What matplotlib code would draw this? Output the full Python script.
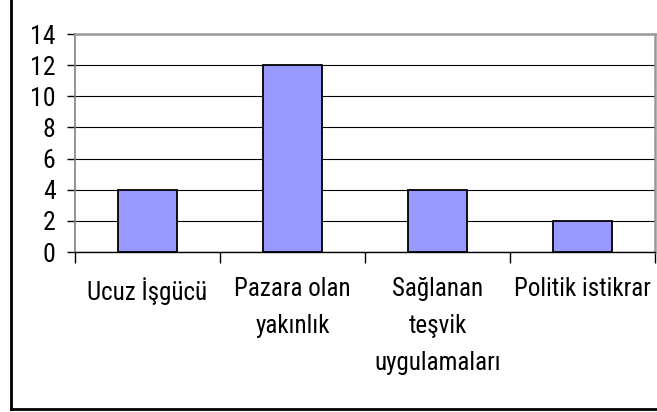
import matplotlib
matplotlib.use('Agg')
import matplotlib.pyplot as plt
from matplotlib.lines import Line2D

# data
categories = ["Ucuz İşgücü", "Pazara olan\nyakınlık", "Sağlanan\nteşvik\nuygulamaları", "Politik istikrar"]
values = [4, 12, 4, 2]
yticks = [0, 2, 4, 6, 8, 10, 12, 14]

plt.rcParams['font.family'] = ['Roboto Condensed', 'Liberation Sans', 'DejaVu Sans']

fig = plt.figure(figsize=(6.57, 4.12), dpi=100)
ax = fig.add_axes([75/657, 1 - 252/412, 580/657, 218/412])

x = list(range(len(categories)))
ax.bar(x, values, width=0.41, color='#9999FF', edgecolor='black', linewidth=1.3, zorder=3)

ax.set_xlim(-0.5, len(categories) - 0.5)
ax.set_ylim(0, 14)
ax.set_yticks(yticks)
ax.set_yticklabels([str(t) for t in yticks], fontsize=18.5)
ax.yaxis.grid(True, color='black', linewidth=0.8, zorder=0)
ax.set_axisbelow(True)

# category labels between boundary ticks
ax.set_xticks([i - 0.5 for i in range(len(categories) + 1)])
ax.set_xticklabels([])
ax.set_xticks(x, minor=True)
ax.set_xticklabels(categories, minor=True, fontsize=18, va='top')
for lbl in ax.get_xticklabels(minor=True):
    lbl.set_linespacing(1.68)
ax.tick_params(axis='x', which='minor', length=0, pad=18)
ax.tick_params(axis='x', which='major', length=8, width=1, direction='out', color='black')
ax.tick_params(axis='y', length=6, width=1, direction='out', color='black', pad=8)

ax.spines['top'].set_color('#999999')
ax.spines['top'].set_linewidth(1.8)
ax.spines['right'].set_color('#999999')
ax.spines['right'].set_linewidth(1.8)
ax.spines['left'].set_color('#808080')
ax.spines['left'].set_linewidth(1.2)
ax.spines['bottom'].set_color('black')
ax.spines['bottom'].set_linewidth(1)

# outer chart border (left and bottom edges visible)
fig.add_artist(Line2D([10.7/657, 10.7/657], [3.3/412, 1.05], color='black', linewidth=2, transform=fig.transFigure))
fig.add_artist(Line2D([10.7/657, 1.05], [3.3/412, 3.3/412], color='black', linewidth=2, transform=fig.transFigure))

fig.savefig('out.png', dpi=100)
